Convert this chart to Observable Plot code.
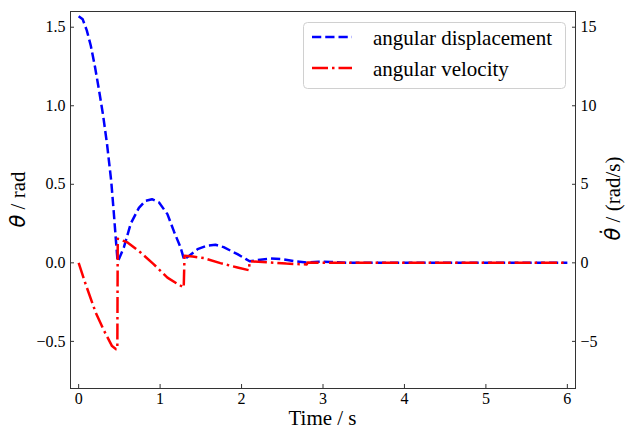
<!DOCTYPE html>
<html><head><meta charset="utf-8">
<script src="https://cdn.jsdelivr.net/npm/d3@7"></script>
<script src="https://cdn.jsdelivr.net/npm/@observablehq/plot@0.6"></script>
<style>body{margin:0;background:#fff}#chart svg{display:block}</style>
</head><body><div id="chart"></div>
<script>
// angular displacement (rad)
const dispTime = [0, 0.05, 0.1, 0.15, 0.2, 0.25, 0.3, 0.35, 0.4, 0.43, 0.455, 0.478, 0.50, 0.556, 0.64, 0.74, 0.82, 0.90, 0.985, 1.09, 1.17, 1.25, 1.295, 1.32, 1.46, 1.58, 1.68, 1.78, 1.95, 2.05, 2.10, 2.23, 2.36, 2.52, 2.68, 2.80, 2.95, 3.10, 3.30, 4.0, 5.0, 6.0];
const dispValue = [1.57, 1.55, 1.48, 1.38, 1.25, 1.10, 0.94, 0.75, 0.52, 0.33, 0.16, 0.01, 0.03, 0.10, 0.25, 0.35, 0.395, 0.405, 0.385, 0.31, 0.20, 0.10, 0.02, 0.03, 0.087, 0.11, 0.115, 0.10, 0.055, 0.025, 0.01, 0.02, 0.028, 0.022, 0.008, 0.002, 0.007, 0.005, 0.001, 0, 0, 0];
// angular velocity (rad/s)
const velTime = [0, 0.086, 0.21, 0.31, 0.41, 0.46, 0.475, 0.48, 0.50, 0.60, 0.76, 0.92, 1.09, 1.20, 1.29, 1.30, 1.40, 1.54, 1.74, 1.95, 2.09, 2.10, 2.36, 2.55, 2.80, 2.81, 3.2, 6.0];
const velValue = [0, -1.36, -3.17, -4.3, -5.3, -5.5, -5.5, 1.53, 1.50, 1.30, 0.66, -0.08, -0.94, -1.30, -1.57, 0.45, 0.40, 0.30, -0.02, -0.30, -0.47, 0.10, 0.02, -0.05, -0.10, 0.02, 0, 0];

const seriesNames = ["angular displacement", "angular velocity"];
const xTicks = [0, 1, 2, 3, 4, 5, 6];
const leftTicks = [-0.5, 0, 0.5, 1, 1.5];
const rightTicks = [-5, 0, 5, 10, 15];
const xLabel = "Time / s";

const ratio = 10; // right axis units per left axis unit
const disp = dispTime.map((t, i) => ({t, v: dispValue[i]}));
const vel = velTime.map((t, i) => ({t, v: velValue[i]}));

const W = 629, H = 432, mL = 70, mR = 54, mT = 11, mB = 44;
const blueDash = "9.25,4", redDash = "16,4,2.5,4";

const plot = Plot.plot({
  width: W, height: H,
  marginLeft: mL, marginRight: mR, marginTop: mT, marginBottom: mB,
  x: {domain: [-0.1, 6.1], label: null},
  y: {domain: [-0.8, 1.6], label: null},
  style: {fontFamily: "'Liberation Serif', 'Times New Roman', serif", fontSize: "16px", color: "#000", background: "#fff", overflow: "visible"},
  marks: [
    Plot.line(disp, {x: "t", y: "v", stroke: "#0000ff", strokeWidth: 2.5, strokeDasharray: blueDash, strokeLinecap: "butt"}),
    Plot.line(vel, {x: "t", y: d => d.v / ratio, stroke: "#ff0000", strokeWidth: 2.5, strokeDasharray: redDash, strokeLinecap: "butt"}),
    Plot.frame({stroke: "#333", strokeWidth: 1}),
    Plot.axisX(xTicks, {tickSize: 0, tickPadding: 4, tickFormat: d3.format("d"), label: null}),
    Plot.axisX(xTicks, {tickSize: -4, stroke: "#333", tickFormat: () => "", label: null}),
    Plot.axisY(leftTicks, {anchor: "left", tickSize: 0, tickPadding: 5, tickFormat: d3.format(".1f"), label: null}),
    Plot.axisY(leftTicks, {anchor: "left", tickSize: -4, stroke: "#333", tickFormat: () => "", label: null}),
    Plot.axisY(rightTicks.map(d => d / ratio), {anchor: "right", tickSize: 0, tickPadding: 5, tickFormat: d => d3.format("d")(Math.round(d * ratio)), label: null}),
    Plot.axisY(rightTicks.map(d => d / ratio), {anchor: "right", tickSize: -4, stroke: "#333", tickFormat: () => "", label: null})
  ]
});
document.getElementById("chart").appendChild(plot);

const svg = d3.select(plot);
const cy = (mT + H - mB) / 2;
svg.append("text").attr("x", (mL + W - mR) / 2).attr("y", 425)
  .attr("text-anchor", "middle").style("font-size", "21px").text(xLabel);

const yl = svg.append("text").attr("transform", `translate(25,${cy}) rotate(-90)`)
  .attr("text-anchor", "middle").style("font-size", "21px");
yl.append("tspan").attr("font-family", "DejaVu Sans").attr("font-style", "italic").text("θ");
yl.append("tspan").text(" / rad");

const yr = svg.append("text").attr("transform", `translate(620,${cy - 1}) rotate(-90)`)
  .attr("text-anchor", "middle").style("font-size", "21px");
yr.append("tspan").attr("font-family", "DejaVu Sans").attr("font-style", "italic").text("θ\u0307");
yr.append("tspan").text(" / (rad/s)");

const lg = svg.append("g");
lg.append("rect").attr("x", 303.5).attr("y", 22.5).attr("width", 262).attr("height", 66).attr("rx", 4)
  .attr("fill", "#fff").attr("fill-opacity", 0.8).attr("stroke", "#d0d0d0");
const rows = [
  {name: seriesNames[0], color: "#0000ff", dash: blueDash, y: 37, base: 44.5},
  {name: seriesNames[1], color: "#ff0000", dash: redDash, y: 68, base: 75.5}
];
rows.forEach(r => {
  lg.append("line").attr("x1", 312).attr("x2", 352).attr("y1", r.y).attr("y2", r.y)
    .attr("stroke", r.color).attr("stroke-width", 2.5).attr("stroke-dasharray", r.dash);
  lg.append("text").attr("x", 373).attr("y", r.base).attr("text-anchor", "start")
    .style("font-size", "21px").text(r.name);
});
</script></body></html>
